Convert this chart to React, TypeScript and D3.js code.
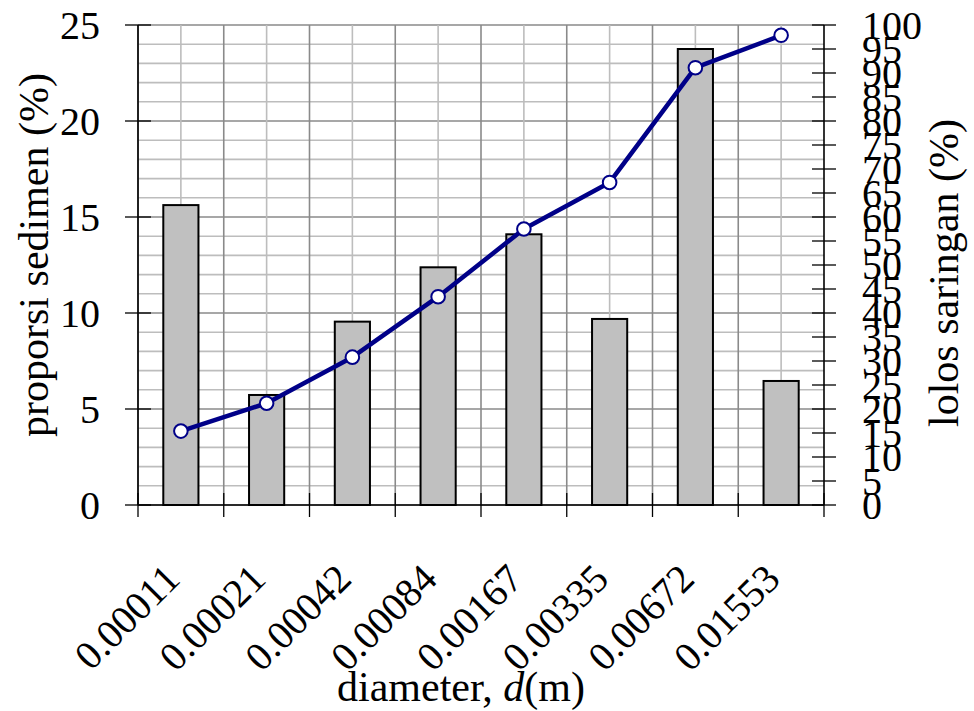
import React from "react";
import * as d3 from "d3";

const categories = ["0.00011", "0.00021", "0.00042", "0.00084", "0.00167", "0.00335", "0.00672", "0.01553"];
const proporsi = [15.62, 5.73, 9.55, 12.38, 14.1, 9.69, 23.75, 6.46];
const lolos = [15.4, 21.2, 30.8, 43.4, 57.5, 67.2, 91.1, 97.85];
const leftTicks = [0, 5, 10, 15, 20, 25];
const rightTicks = [0, 5, 10, 15, 20, 25, 30, 35, 40, 45, 50, 55, 60, 65, 70, 75, 80, 85, 90, 95, 100];

const W = 974, H = 711;
const M = { left: 138, right: 824, top: 25, bottom: 505 };
const FONT = "'Liberation Serif', 'Times New Roman', serif";

export default function App() {
  const x = d3.scaleBand<string>().domain(categories).range([M.left, M.right]).padding(0);
  const yL = d3.scaleLinear().domain([0, 25]).range([M.bottom, M.top]);
  const yR = d3.scaleLinear().domain([0, 100]).range([M.bottom, M.top]);
  const bw = x.bandwidth();
  const barW = bw * 0.41;
  const cx = (c: string) => (x(c) as number) + bw / 2;

  const minorH = d3.range(0, 26);
  const line = d3.line<number>().x((_, i) => cx(categories[i])).y((d) => yR(d));

  return (
    <svg width={W} height={H} style={{ position: "absolute", left: 0, top: 0, background: "#fff" }} fontFamily={FONT}>
      {/* horizontal grid */}
      {minorH.map((v) => (
        <line key={"h" + v} x1={M.left} x2={M.right} y1={yL(v)} y2={yL(v)}
          stroke={v % 5 === 0 ? "#8a8a8a" : "#bdbdbd"} strokeWidth={1.6} />
      ))}
      {/* vertical grid */}
      {categories.map((c) => (
        <g key={"v" + c}>
          <line x1={x(c)} x2={x(c)} y1={M.top} y2={M.bottom} stroke="#8a8a8a" strokeWidth={1.6} />
          <line x1={cx(c)} x2={cx(c)} y1={M.top} y2={M.bottom} stroke="#bdbdbd" strokeWidth={1.6} />
        </g>
      ))}
      {/* bars */}
      {categories.map((c, i) => (
        <rect key={"b" + c} x={cx(c) - barW / 2} y={yL(proporsi[i])} width={barW}
          height={yL(0) - yL(proporsi[i])} fill="#c0c0c0" stroke="#000" strokeWidth={2} />
      ))}
      {/* axes */}
      <line x1={M.left} x2={M.left} y1={M.top} y2={M.bottom} stroke="#000" strokeWidth={1.6} />
      <line x1={M.right} x2={M.right} y1={M.top} y2={M.bottom} stroke="#000" strokeWidth={1.6} />
      <line x1={M.left} x2={M.right} y1={M.bottom} y2={M.bottom} stroke="#000" strokeWidth={1.6} />
      {leftTicks.map((t) => (
        <g key={"lt" + t}>
          <line x1={M.left - 13} x2={M.left + 13} y1={yL(t)} y2={yL(t)} stroke="#000" strokeWidth={1.3} />
          <text x={100} y={yL(t)} dy="0.35em" textAnchor="end" fontSize={40}>{t}</text>
        </g>
      ))}
      {rightTicks.map((t) => (
        <g key={"rt" + t}>
          <line x1={M.right - 12} x2={M.right + 12} y1={yR(t)} y2={yR(t)} stroke="#000" strokeWidth={1.3} />
          <text x={862} y={yR(t)} dy="0.35em" textAnchor="start" fontSize={40}>{t}</text>
        </g>
      ))}
      {[...categories.map((c) => x(c) as number), M.right].map((p, i) => (
        <line key={"bt" + i} x1={p} x2={p} y1={M.bottom - 12} y2={M.bottom + 12} stroke="#000" strokeWidth={1.3} />
      ))}
      {categories.map((c) => (
        <text key={"xl" + c} transform={`translate(${cx(c) + 1},${581}) rotate(-45)`} textAnchor="end" fontSize={40}>{c}</text>
      ))}
      {/* line */}
      <path d={line(lolos) || ""} fill="none" stroke="#000088" strokeWidth={4.5} strokeLinejoin="round" />
      {lolos.map((v, i) => (
        <circle key={"p" + i} cx={cx(categories[i])} cy={yR(v)} r={6.8} fill="#fff" stroke="#000088" strokeWidth={2} />
      ))}
      {/* titles */}
      <text transform={`translate(48,255) rotate(-90)`} textAnchor="middle" fontSize={42}>proporsi sedimen (%)</text>
      <text transform={`translate(958,273) rotate(-90)`} textAnchor="middle" fontSize={42}>lolos saringan (%)</text>
      <text x={461} y={701} textAnchor="middle" fontSize={42}>
        diameter, <tspan fontStyle="italic">d</tspan>(m)
      </text>
    </svg>
  );
}
